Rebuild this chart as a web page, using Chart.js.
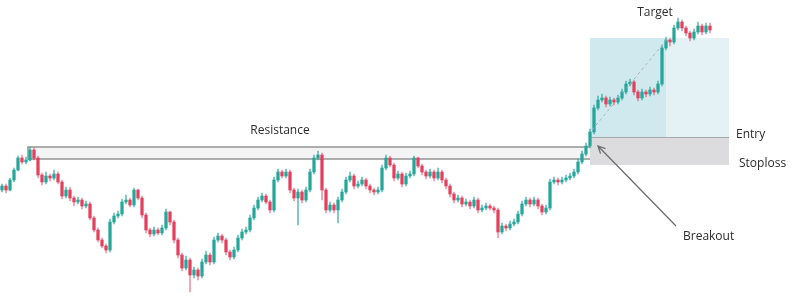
<!DOCTYPE html>
<html>
<head>
<meta charset="utf-8">
<script src="https://cdn.jsdelivr.net/npm/chart.js@4.4.1/dist/chart.umd.min.js"></script>
<style>
  html, body { margin: 0; padding: 0; background: #fff; }
  #wrap { width: 795px; height: 303px; position: relative; }
</style>
</head>
<body>
<div id="wrap"><canvas id="breakoutChart"></canvas></div>
<script>
// candle prices, one per session
const opens = [
  113,117,113,123,133,145,141,143,153,145, 128,121,127,125,129,121,107,113,105,101,
  103,97,99,85,73,63,57,53,81,87, 89,101,103,98,113,105,88,73,69,73,
  70,75,91,81,63,48,35,43,28,33, 27,41,48,41,63,67,63,51,46,53,
  65,71,73,85,95,103,107,101,93,123, 131,127,131,113,105,111,103,113,131,145,
  148,113,93,98,93,103,111,123,127,117, 119,123,117,113,111,113,135,145,138,125,
  129,119,127,129,145,137,131,127,131,125, 131,123,117,109,103,105,99,101,97,103,
  93,95,97,95,93,71,77,75,79,81, 89,99,103,99,103,97,91,95,121,123,
  121,123,125,127,131,141,149,157,171,195, 203,205,199,203,201,205,211,219,221,211,
  205,211,209,213,211,219,255,263,261,275, 281,275,270,265,271,277,271,277
];
const closes = [
  117,113,123,133,145,141,143,153,145,128, 121,127,125,129,121,107,113,105,101,103,
  97,99,85,73,63,57,53,81,87,89, 101,103,98,113,105,88,73,69,73,70,
  75,91,81,63,48,35,43,28,33,27, 41,48,41,63,67,63,51,46,53,65,
  71,73,85,95,103,107,101,93,123,131, 127,131,113,105,111,103,113,131,145,148,
  113,93,98,93,103,111,123,127,117,119, 123,117,113,111,113,135,145,138,125,129,
  119,127,129,145,137,131,127,131,125,131, 123,117,109,103,105,99,101,97,103,93,
  95,97,95,93,71,77,75,79,81,89, 99,103,99,103,97,91,95,121,123,121,
  123,125,127,131,141,149,157,171,195,203, 205,199,203,201,205,211,219,221,211,205,
  211,209,213,211,219,255,263,261,275,281, 275,270,265,271,277,271,277,273
];
const highs = [
  119,119,125,135,147,148,146,156,155,147, 130,131,129,133,131,123,116,116,107,106,
  105,102,101,87,75,65,59,84,90,92, 104,108,105,115,114,107,90,75,76,75,
  78,94,92,83,65,50,47,45,36,35, 44,52,50,66,70,69,65,53,56,68,
  74,76,88,98,106,110,109,103,126,134, 133,134,133,115,114,113,116,134,148,152,
  150,115,101,100,106,114,126,131,129,122, 126,125,119,115,116,138,148,147,140,132,
  131,130,132,147,146,139,133,134,133,135, 133,125,119,111,108,107,104,103,106,105,
  98,100,99,97,95,80,79,82,84,92, 102,106,105,106,105,99,98,124,126,125,
  126,128,130,134,144,152,160,174,198,207, 209,207,206,205,208,214,222,224,223,213,
  214,213,216,215,222,258,266,265,278,285, 283,277,272,274,281,279,280,280
];
const lows = [
  111,110,112,121,132,139,139,142,143,125, 118,119,122,123,119,104,105,102,97,99,
  94,95,83,71,61,55,50,51,79,85, 87,99,96,96,103,85,70,66,67,68,
  68,73,78,60,45,32,33,11,25,23, 25,39,38,39,61,60,48,43,44,51,
  63,69,71,83,93,101,99,90,91,121, 125,125,110,102,78,100,101,111,129,143,
  103,90,91,90,80,101,109,121,114,115, 117,114,110,108,109,111,133,136,122,123,
  116,117,125,127,135,128,124,125,122,123, 120,114,106,100,101,96,97,94,95,90,
  91,93,93,90,65,69,72,73,77,79, 87,97,96,97,94,88,89,93,119,118,
  119,121,123,125,129,139,147,155,169,193, 201,196,197,198,199,203,209,217,208,202,
  203,206,207,208,209,217,253,257,259,273, 272,267,262,263,269,268,269,270
];

// trade levels
const resistanceZone = [144, 156];
const entryPrice = 165.5;
const stopPrice = 138;
const targetPrice = 265;
// session positions of the drawings
const resistanceSpan = [6.5, 148.75];
const tradeSpan = [147, 166, 181.75];     // start, target hit, end
const projection = [[147.5, 173], [166.5, 265]];
const breakoutPointer = [[149, 157], [168.5, 77]];

const labels = closes.map((c, i) => "D" + (i + 1));

const UP = "#26a69a";
const DOWN = "#e2405c";
const candleColors = closes.map((c, i) => c >= opens[i] ? UP : DOWN);
const wickColors = closes.map((c, i) => c >= opens[i] ? "rgba(38,166,154,0.7)" : "rgba(226,64,92,0.55)");

const tradeDrawings = {
  id: "tradeDrawings",
  beforeDatasetsDraw(chart) {
    const { ctx, scales: { x, y } } = chart;
    ctx.save();
    // resistance box
    const rx0 = x.getPixelForValue(resistanceSpan[0]);
    const rx1 = x.getPixelForValue(resistanceSpan[1]);
    const ry0 = y.getPixelForValue(resistanceZone[1]);
    const ry1 = y.getPixelForValue(resistanceZone[0]);
    ctx.fillStyle = "#f4f4f4";
    ctx.fillRect(rx0, ry0, rx1 - rx0, ry1 - ry0);
    ctx.strokeStyle = "#9a9a9a";
    ctx.lineWidth = 1.6;
    ctx.strokeRect(rx0, ry0, rx1 - rx0, ry1 - ry0);

    // target zone
    const tx0 = x.getPixelForValue(tradeSpan[0]);
    const tx1 = x.getPixelForValue(tradeSpan[1]);
    const tx2 = x.getPixelForValue(tradeSpan[2]);
    const yt = y.getPixelForValue(targetPrice);
    const ye = y.getPixelForValue(entryPrice);
    const ys = y.getPixelForValue(stopPrice);
    ctx.fillStyle = "#d0e9ef";
    ctx.fillRect(tx0, yt, tx1 - tx0, ye - yt);
    ctx.fillStyle = "#e4f2f5";
    ctx.fillRect(tx1, yt, tx2 - tx1, ye - yt);
    // stoploss zone
    ctx.fillStyle = "#dcdcde";
    ctx.fillRect(tx0, ye, tx2 - tx0, ys - ye);
    // entry line
    ctx.strokeStyle = "#a8a8a8";
    ctx.lineWidth = 1;
    ctx.beginPath();
    ctx.moveTo(tx0, ye);
    ctx.lineTo(tx2, ye);
    ctx.stroke();
    ctx.restore();
  },
  afterDatasetsDraw(chart) {
    const { ctx, scales: { x, y } } = chart;
    ctx.save();
    // projection dashes
    ctx.strokeStyle = "#a9b4b8";
    ctx.lineWidth = 1;
    ctx.setLineDash([3, 3]);
    ctx.beginPath();
    ctx.moveTo(x.getPixelForValue(projection[0][0]), y.getPixelForValue(projection[0][1]));
    ctx.lineTo(x.getPixelForValue(projection[1][0]), y.getPixelForValue(projection[1][1]));
    ctx.stroke();
    ctx.setLineDash([]);

    // breakout pointer
    const ax = x.getPixelForValue(breakoutPointer[0][0]);
    const ay = y.getPixelForValue(breakoutPointer[0][1]);
    const bx = x.getPixelForValue(breakoutPointer[1][0]);
    const by = y.getPixelForValue(breakoutPointer[1][1]);
    ctx.strokeStyle = "#6e6e6e";
    ctx.lineWidth = 1.3;
    ctx.beginPath();
    ctx.moveTo(bx, by);
    ctx.lineTo(ax, ay);
    const ang = Math.atan2(by - ay, bx - ax);
    ctx.moveTo(ax + 8 * Math.cos(ang - 0.45), ay + 8 * Math.sin(ang - 0.45));
    ctx.lineTo(ax, ay);
    ctx.lineTo(ax + 8 * Math.cos(ang + 0.45), ay + 8 * Math.sin(ang + 0.45));
    ctx.stroke();

    // labels
    ctx.fillStyle = "#2b2b2b";
    ctx.font = "12px 'Open Sans', sans-serif";
    ctx.textBaseline = "middle";
    ctx.textAlign = "center";
    ctx.fillText("Resistance", x.getPixelForValue(69.5), y.getPixelForValue(172));
    ctx.fillText("Target", x.getPixelForValue(163.25), y.getPixelForValue(290));
    ctx.textAlign = "left";
    ctx.fillText("Entry", x.getPixelForValue(183.5), y.getPixelForValue(168.5));
    ctx.fillText("Stoploss", x.getPixelForValue(184.25), y.getPixelForValue(139));
    ctx.fillText("Breakout", x.getPixelForValue(170.25), y.getPixelForValue(66));
    ctx.restore();
  }
};

new Chart(document.getElementById("breakoutChart"), {
  type: "bar",
  data: {
    labels,
    datasets: [
      {
        label: "Range",
        data: lows.map((l, i) => [l, highs[i]]),
        backgroundColor: wickColors,
        barThickness: 1,
        grouped: false,
        order: 2
      },
      {
        label: "Body",
        data: opens.map((o, i) => [o, closes[i]]),
        backgroundColor: candleColors,
        barThickness: 2.6,
        minBarLength: 1,
        grouped: false,
        order: 1
      }
    ]
  },
  options: {
    responsive: true,
    maintainAspectRatio: false,
    animation: false,
    layout: { padding: { left: 0, right: 83, top: 0, bottom: 0 } },
    plugins: { legend: { display: false }, tooltip: { enabled: false } },
    scales: {
      x: { display: false, offset: true, grid: { display: false } },
      y: { display: false, min: 0, max: 303 }
    }
  },
  plugins: [tradeDrawings]
});
</script>
</body>
</html>
